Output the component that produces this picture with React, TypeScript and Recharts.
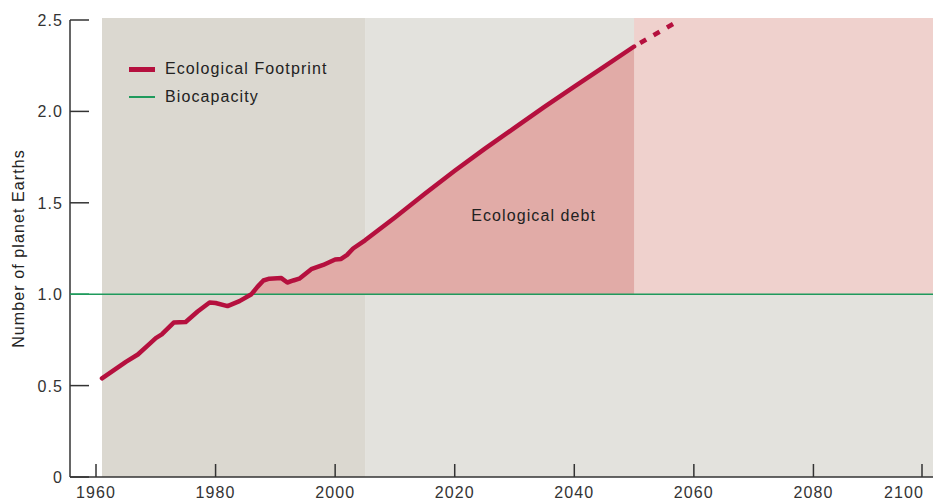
import React from 'react';
import {
  ComposedChart,
  Line,
  Area,
  XAxis,
  YAxis,
  ReferenceArea,
  ReferenceLine,
  ReferenceDot,
  Legend,
  Label,
} from 'recharts';

// footprint (planet Earths)
const histYears = [
  1961, 1963, 1965, 1967, 1969, 1970, 1971, 1973, 1975, 1977, 1979, 1980, 1982,
  1984, 1986, 1987, 1988, 1989, 1991, 1992, 1993, 1994, 1996, 1998, 2000, 2001,
  2002, 2003, 2005,
];
const histFootprint = [
  0.54, 0.585, 0.63, 0.67, 0.73, 0.76, 0.78, 0.845, 0.848, 0.905, 0.955, 0.952,
  0.935, 0.962, 1.0, 1.04, 1.075, 1.085, 1.088, 1.064, 1.075, 1.085, 1.137, 1.16,
  1.19, 1.193, 1.215, 1.25, 1.295,
];
const projYears = [2010, 2015, 2020, 2025, 2030, 2035, 2040, 2045, 2050];
const projFootprint = [1.42, 1.55, 1.675, 1.795, 1.91, 2.025, 2.135, 2.245, 2.355];
const trendYears = [2050, 2057.4];
const trendFootprint = [2.355, 2.495];

const BIOCAPACITY = 1;
const DEBT_START = 1986;
const DEBT_END = 2050;

const xTicks = [1960, 1980, 2000, 2020, 2040, 2060, 2080, 2100];
const yTicks = [0, 0.5, 1, 1.5, 2, 2.5];

const legendItems = [
  { label: 'Ecological Footprint', color: '#b5103e', thick: 5 },
  { label: 'Biocapacity', color: '#1f9a5c', thick: 2 },
];

const FONT = '"Liberation Sans", Arial, sans-serif';
const GREEN = '#1f9a5c';

type Row = { year: number; fp?: number; trend?: number; debt?: [number, number] };

const rows: Row[] = [];
histYears.forEach((y, i) => rows.push({ year: y, fp: histFootprint[i] }));
projYears.forEach((y, i) => rows.push({ year: y, fp: projFootprint[i] }));
rows.forEach((r) => {
  if (r.year >= DEBT_START && r.year <= DEBT_END && r.fp !== undefined) {
    r.debt = [BIOCAPACITY, r.fp];
  }
});
trendYears.forEach((y, i) => {
  const found = rows.find((r) => r.year === y);
  if (found) found.trend = trendFootprint[i];
  else rows.push({ year: y, trend: trendFootprint[i] });
});

const XTick = (props: any) => {
  const { x, y, payload, index, visibleTicksCount } = props;
  const last = index === visibleTicksCount - 1;
  return (
    <g>
      <line x1={x} x2={x} y1={y} y2={y - 13} stroke="#333" strokeWidth={1.5} />
      <text
        x={last ? x + 2 : x}
        y={y + 21}
        textAnchor={last ? 'end' : 'middle'}
        fill="#333"
        fontSize={16}
      >
        {payload.value}
      </text>
    </g>
  );
};

const YTick = (props: any) => {
  const { x, y, payload } = props;
  const v = payload.value === 0 ? '0' : payload.value.toFixed(1);
  const isBio = payload.value === BIOCAPACITY;
  return (
    <g>
      <line
        x1={x}
        x2={x + 19}
        y1={y}
        y2={y}
        stroke={isBio ? GREEN : '#333'}
        strokeWidth={isBio ? 1.6 : 1.5}
      />
      <text x={x - 7} y={y + 6} textAnchor="end" fill="#333" fontSize={16}>
        {v}
      </text>
    </g>
  );
};

const LegendBox = () => (
  <div style={{ fontFamily: FONT, fontSize: 16, color: '#222', letterSpacing: '1.1px' }}>
    {legendItems.map((it) => (
      <div key={it.label} style={{ display: 'flex', alignItems: 'center', height: 28 }}>
        <span
          style={{
            display: 'inline-block',
            width: 26,
            height: it.thick,
            background: it.color,
            marginRight: 10,
          }}
        />
        <span>{it.label}</span>
      </div>
    ))}
  </div>
);

export default function App() {
  return (
    <div
      style={{
        position: 'absolute',
        left: 0,
        top: 0,
        width: 938,
        height: 500,
        background: '#fff',
        fontFamily: FONT,
        letterSpacing: '1.1px',
      }}
    >
      <ComposedChart
        width={938}
        height={500}
        data={rows}
        margin={{ top: 20, right: 5, bottom: 0, left: 0 }}
      >
        <ReferenceArea x1={1961} x2={2005} y1={0} y2={2.511} ifOverflow="visible" fill="#dbd8d0" fillOpacity={1} stroke="none" />
        <ReferenceArea x1={2005} x2={2100} y1={0} y2={2.511} ifOverflow="visible" fill="#e3e2dd" fillOpacity={1} stroke="none" />
        <ReferenceArea x1={2050} x2={2100} y1={1} y2={2.511} ifOverflow="visible" fill="#efd1cd" fillOpacity={1} stroke="none" />
        <XAxis
          dataKey="year"
          type="number"
          domain={[1955.65, 2100]}
          ticks={xTicks}
          allowDataOverflow
          height={23}
          tickSize={0}
          tickMargin={0}
          tickLine={false}
          axisLine={{ stroke: '#333', strokeWidth: 1.5 }}
          tick={(p: any) => <XTick {...p} />}
        />
        <YAxis
          type="number"
          domain={[0, 2.5]}
          ticks={yTicks}
          width={70}
          tickSize={0}
          tickMargin={0}
          tickLine={false}
          axisLine={{ stroke: '#333', strokeWidth: 1.5 }}
          tick={(p: any) => <YTick {...p} />}
        >
          <Label
            value="Number of planet Earths"
            angle={-90}
            position="insideLeft"
            offset={18}
            fill="#222"
            fontSize={16}
            style={{ textAnchor: 'middle' }}
          />
        </YAxis>
        <Area
          dataKey="debt"
          type="linear"
          fill="#e1aba7"
          fillOpacity={1}
          stroke="none"
          isAnimationActive={false}
          activeDot={false}
        />
        <ReferenceLine y={BIOCAPACITY} stroke={GREEN} strokeWidth={1.6} />
        <Line
          dataKey="fp"
          type="linear"
          stroke="#b5103e"
          strokeWidth={4.5}
          strokeLinejoin="round"
          strokeLinecap="round"
          dot={false}
          activeDot={false}
          isAnimationActive={false}
        />
        <Line
          dataKey="trend"
          type="linear"
          stroke="#b5103e"
          strokeWidth={4.5}
          strokeDasharray="7 8.5"
          strokeDashoffset={8.5}
          dot={false}
          activeDot={false}
          isAnimationActive={false}
        />
        <ReferenceDot x={2033.2} y={1.43} r={0} fill="none" stroke="none">
          <Label value="Ecological debt" position="center" fill="#222" fontSize={16} />
        </ReferenceDot>
        <Legend
          layout="vertical"
          align="center"
          verticalAlign="middle"
          wrapperStyle={{ top: 55, left: 129, width: 220 }}
          content={() => <LegendBox />}
        />
      </ComposedChart>
    </div>
  );
}
